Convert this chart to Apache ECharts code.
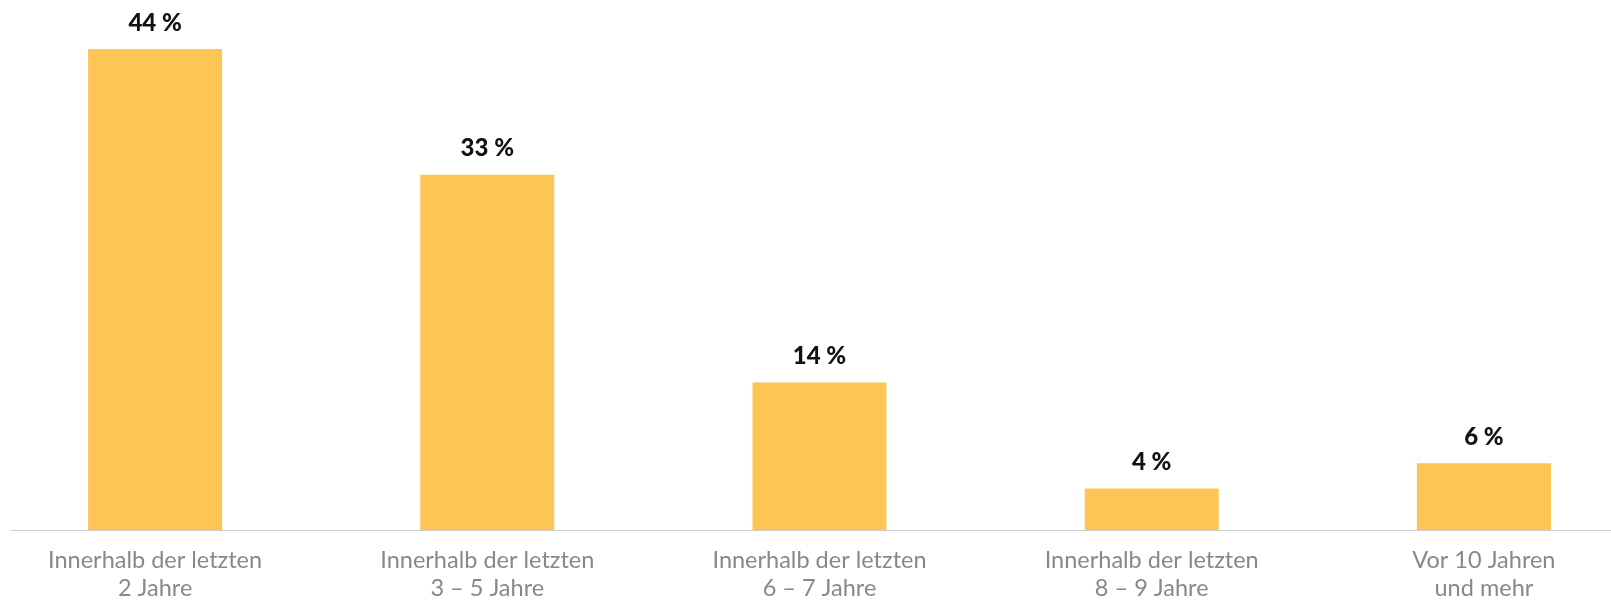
<!DOCTYPE html>
<html>
<head>
<meta charset="utf-8">
<style>
html,body{margin:0;padding:0;background:#fff;}
#chart{width:1611px;height:603px;}
</style>
<script src="https://cdn.jsdelivr.net/npm/echarts@6/dist/echarts.min.js"></script>
</head>
<body>
<div id="chart"></div>
<script>
const categories = [
  "Innerhalb der letzten\n2 Jahre",
  "Innerhalb der letzten\n3 – 5 Jahre",
  "Innerhalb der letzten\n6 – 7 Jahre",
  "Innerhalb der letzten\n8 – 9 Jahre",
  "Vor 10 Jahren\nund mehr"
];
const values = [44, 32.5, 13.5, 3.8, 6.1];
const valueLabels = ["44 %", "33 %", "14 %", "4 %", "6 %"];

const chart = echarts.init(document.getElementById('chart'));
chart.setOption({
  animation: false,
  grid: [
    { left: -11, right: -39, top: 49, bottom: 73, outerBoundsMode: 'none', containLabel: false },
    { left: 11, right: 0, top: 49, bottom: 73, outerBoundsMode: 'none', containLabel: false }
  ],
  xAxis: [
    {
      type: 'category', gridIndex: 0, data: categories,
      axisLine: { show: false }, axisTick: { show: false },
      axisLabel: {
        color: '#888888', fontFamily: 'Lato', fontWeight: 400,
        fontSize: 23.5, lineHeight: 28, margin: 16, interval: 0
      }
    },
    {
      type: 'category', gridIndex: 1, data: [],
      axisLine: { show: true, lineStyle: { color: '#cccccc', width: 1 } },
      axisTick: { show: false }, axisLabel: { show: false }
    }
  ],
  yAxis: [
    { type: 'value', gridIndex: 0, min: 0, max: 44, show: false },
    { type: 'value', gridIndex: 1, show: false }
  ],
  series: [{
    type: 'bar', xAxisIndex: 0, yAxisIndex: 0,
    data: values, barWidth: 134,
    itemStyle: { color: '#fcc554' },
    label: {
      show: true, position: 'top', distance: 14,
      formatter: p => valueLabels[p.dataIndex],
      color: '#111', fontFamily: 'Lato', fontWeight: 900, fontSize: 24
    }
  }]
});
</script>
</body>
</html>
